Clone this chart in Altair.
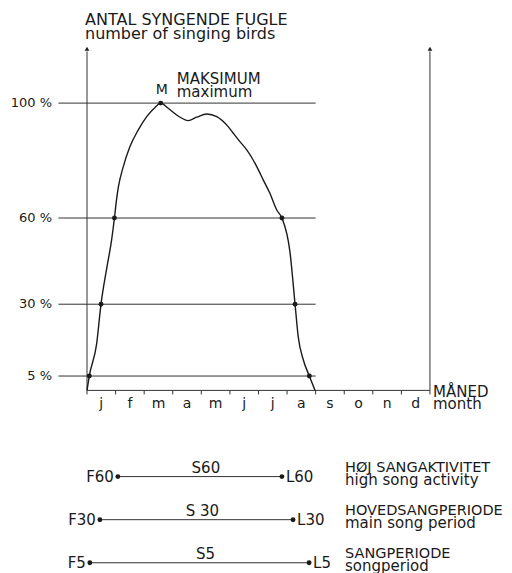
import altair as alt
import pandas as pd

# ---------------- data ----------------
# share of singing birds (%) through the year (x in months, 0 = 1 January)
curve_month = [0.0, 0.08, 0.34, 0.49, 0.69, 0.86, 0.96, 1.04, 1.10, 1.27, 1.50,
               1.79, 2.09, 2.38, 2.58, 2.84, 3.19, 3.54, 3.84, 4.19, 4.54, 4.94,
               5.12, 5.35, 5.59, 5.94, 6.17, 6.40, 6.64, 6.82, 7.10, 7.28, 7.39,
               7.57, 7.78, 7.98]
curve_pct = [0, 5, 16.4, 30, 42.5, 52.3, 60, 66.9, 70.9, 77.9, 84.8,
             90.6, 95.3, 98.5, 100, 98.2, 95.5, 93.9, 95.1, 96.2, 95.3, 91.8,
             89.5, 86.6, 83.7, 77.9, 73.2, 68.6, 62.8, 60, 48.3, 30, 18.7,
             10.6, 5, 0]

level_pct = [100, 60, 30, 5]
level_label = ["100 %", "60 %", "30 %", "5 %"]
level_from = [-1.0, -1.0, -1.0, -1.0]
level_to = [8.0, 8.0, 8.0, 8.0]

cross_month = [2.58, 0.96, 6.82, 0.49, 7.28, 0.08, 7.78]
cross_pct = [100, 60, 60, 30, 30, 5, 5]

month_labels = ["j", "f", "m", "a", "m", "j", "j", "a", "s", "o", "n", "d"]
month_edges = list(range(13))

period_first = [1.08, 0.45, 0.10]
period_last = [6.82, 7.21, 7.77]
period_F = ["F60", "F30", "F5"]
period_L = ["L60", "L30", "L5"]
period_S = ["S60", "S 30", "S5"]
period_dk = ["HØJ SANGAKTIVITET", "HOVEDSANGPERIODE", "SANGPERIODE"]
period_en = ["high song activity", "main song period", "songperiod"]
period_row = [-30, -45, -60]   # rows below the graph, in the same vertical scale

axis_top = 118.0

# ---------------- scales (whole canvas mapped) ----------------
W, H = 496, 565
PXM = 28.58   # px per month
X0 = 79.0     # view px of 1 January
PXP = 2.873   # px per percent
Y0 = 382.4    # view px of 0 %

XS = alt.Scale(domain=[-X0 / PXM, (W - X0) / PXM], nice=False, zero=False)
YS = alt.Scale(domain=[(Y0 - H) / PXP, Y0 / PXP], nice=False, zero=False)

FONT = "DejaVu Sans"
INK = "#1a1a1a"
BIG = 15


def X(f):
    return alt.X(f, type="quantitative", scale=XS, axis=None)


def Y(f):
    return alt.Y(f, type="quantitative", scale=YS, axis=None)


curve_df = pd.DataFrame({"m": curve_month, "p": curve_pct})
level_df = pd.DataFrame({"a": level_from, "b": level_to, "p": level_pct, "t": level_label})
cross_df = pd.DataFrame({"m": cross_month, "p": cross_pct})
month_df = pd.DataFrame({"m": [i + 0.5 for i in range(12)], "t": month_labels})
edge_df = pd.DataFrame({"m": month_edges, "p0": [0] * 13, "p1": [-1.4] * 13})
axes_df = pd.DataFrame({"m": [0, 12], "p0": [0, 0], "p1": [axis_top, axis_top]})
base_df = pd.DataFrame({"a": [0], "b": [12], "p": [0]})
arrow_df = pd.DataFrame({"m": [0, 12], "p": [axis_top + 0.9, axis_top + 0.9]})
per_df = pd.DataFrame({"f": period_first, "l": period_last, "r": period_row,
                       "F": period_F, "L": period_L, "S": period_S,
                       "dk": period_dk, "en": period_en})
per_df["mid"] = (per_df["f"] + per_df["l"]) / 2
per_pts = pd.concat([per_df[["f", "r"]].rename(columns={"f": "m"}),
                     per_df[["l", "r"]].rename(columns={"l": "m"})])
peak_df = pd.DataFrame({"m": [2.58], "p": [100]})
one = pd.DataFrame({"k": [0]})

layers = []

# reference levels
layers.append(alt.Chart(level_df).mark_rule(color="#333", strokeWidth=1).encode(
    x=X("a"), x2="b", y=Y("p")))
# axes
layers.append(alt.Chart(axes_df).mark_rule(color="#333", strokeWidth=1).encode(
    x=X("m"), y=Y("p0"), y2="p1"))
layers.append(alt.Chart(base_df).mark_rule(color="#333", strokeWidth=1).encode(
    x=X("a"), x2="b", y=Y("p")))
layers.append(alt.Chart(edge_df).mark_rule(color="#333", strokeWidth=1).encode(
    x=X("m"), y=Y("p0"), y2="p1"))
layers.append(alt.Chart(arrow_df).mark_point(shape="triangle-up", filled=True, size=22,
                                             color=INK, opacity=1).encode(
    x=X("m"), y=Y("p")))
# curve
layers.append(alt.Chart(curve_df).mark_line(color=INK, strokeWidth=1.4,
                                            interpolate="monotone").encode(
    x=X("m"), y=Y("p")))
layers.append(alt.Chart(cross_df).mark_circle(size=24, color=INK, opacity=1).encode(
    x=X("m"), y=Y("p")))
# y labels
layers.append(alt.Chart(level_df).mark_text(align="right", baseline="middle", fontSize=13,
                                            font=FONT, color=INK).encode(
    x=alt.value(44), y=Y("p"), text="t:N"))
# month labels
layers.append(alt.Chart(month_df).mark_text(align="center", baseline="alphabetic",
                                            fontSize=14, font=FONT, color=INK).encode(
    x=X("m"), y=alt.value(400), text="t:N"))
# peak labels
layers.append(alt.Chart(peak_df).mark_text(text="M", align="center", baseline="alphabetic",
                                           dx=1, dy=-9, fontSize=14, font=FONT,
                                           color=INK).encode(x=X("m"), y=Y("p")))
layers.append(alt.Chart(peak_df).mark_text(text="MAKSIMUM", align="left",
                                           baseline="alphabetic", dx=16, dy=-19,
                                           fontSize=BIG, font=FONT, color=INK).encode(
    x=X("m"), y=Y("p")))
layers.append(alt.Chart(peak_df).mark_text(text="maximum", align="left",
                                           baseline="alphabetic", dx=16, dy=-6,
                                           fontSize=BIG, font=FONT, color=INK).encode(
    x=X("m"), y=Y("p")))
# titles
layers.append(alt.Chart(one).mark_text(text="ANTAL SYNGENDE FUGLE", align="left",
                                       baseline="alphabetic", fontSize=16, font=FONT,
                                       color=INK).encode(x=alt.value(77), y=alt.value(17)))
layers.append(alt.Chart(one).mark_text(text="number of singing birds", align="left",
                                       baseline="alphabetic", fontSize=16, font=FONT,
                                       color=INK).encode(x=alt.value(77), y=alt.value(31)))
layers.append(alt.Chart(one).mark_text(text="MÅNED", align="left", baseline="alphabetic",
                                       fontSize=BIG, font=FONT, color=INK).encode(
    x=alt.value(425), y=alt.value(389)))
layers.append(alt.Chart(one).mark_text(text="month", align="left", baseline="alphabetic",
                                       fontSize=BIG, font=FONT, color=INK).encode(
    x=alt.value(425), y=alt.value(401)))
# period legend
layers.append(alt.Chart(per_df).mark_rule(color="#333", strokeWidth=1).encode(
    x=X("f"), x2="l", y=Y("r")))
layers.append(alt.Chart(per_pts).mark_circle(size=24, color=INK, opacity=1).encode(
    x=X("m"), y=Y("r")))
layers.append(alt.Chart(per_df).mark_text(align="right", baseline="middle", dx=-4,
                                          fontSize=BIG, font=FONT, color=INK).encode(
    x=X("f"), y=Y("r"), text="F:N"))
layers.append(alt.Chart(per_df).mark_text(align="left", baseline="middle", dx=4,
                                          fontSize=BIG, font=FONT, color=INK).encode(
    x=X("l"), y=Y("r"), text="L:N"))
layers.append(alt.Chart(per_df).mark_text(align="center", baseline="alphabetic", dx=6,
                                          dy=-4, fontSize=BIG, font=FONT, color=INK).encode(
    x=X("mid"), y=Y("r"), text="S:N"))
layers.append(alt.Chart(per_df).mark_text(align="left", baseline="alphabetic", dy=-5,
                                          fontSize=14.5, font=FONT, color=INK).encode(
    x=alt.value(337), y=Y("r"), text="dk:N"))
layers.append(alt.Chart(per_df).mark_text(align="left", baseline="alphabetic", dy=8,
                                          fontSize=BIG, font=FONT, color=INK).encode(
    x=alt.value(337), y=Y("r"), text="en:N"))

chart = alt.layer(*layers).properties(
    width=W, height=H, padding=0, background="white",
    autosize=alt.AutoSizeParams(type="none"),
).configure_view(strokeWidth=0)

chart.save("out.html", embed_options={"renderer": "svg", "actions": False})
